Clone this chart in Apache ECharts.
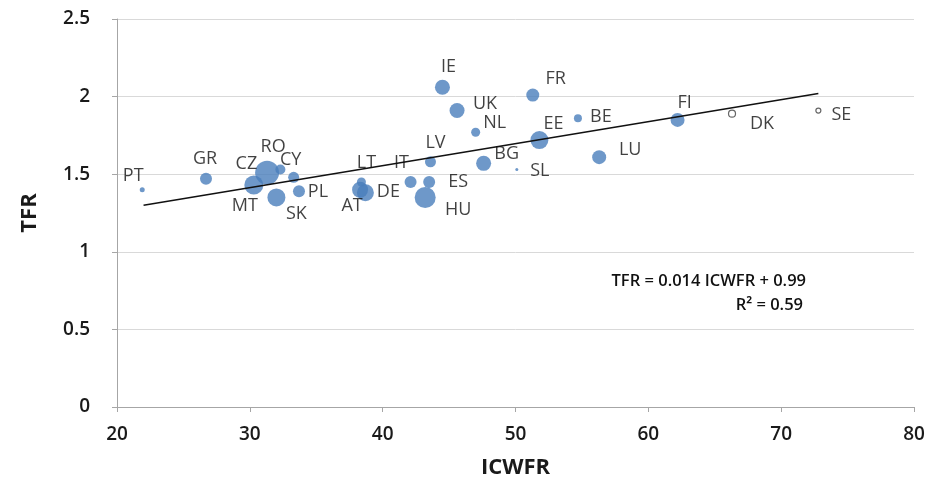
<!DOCTYPE html>
<html>
<head>
<meta charset="utf-8">
<script src="https://cdn.jsdelivr.net/npm/echarts@6/dist/echarts.min.js"></script>
<style>html,body{margin:0;padding:0;background:#fff}#c{width:934px;height:485px}</style>
</head>
<body>
<div id="c"></div>
<script>
const countries = ['PT','GR','RO','CZ','CY','MT','PL','SK','LT','AT','DE','IT','ES','HU','LV','BG','SL','IE','FR','UK','NL','EE','BE','LU','FI','DK','SE'];
const icwfr = [21.9,26.7,31.3,32.3,33.3,30.3,33.7,32.0,38.4,38.3,38.7,42.1,43.5,43.2,43.6,47.6,50.1,44.5,51.3,45.6,47.0,51.8,54.7,56.3,62.2,66.3,72.8];
const tfr = [1.40,1.47,1.51,1.53,1.48,1.43,1.39,1.35,1.45,1.40,1.38,1.45,1.45,1.35,1.58,1.57,1.53,2.06,2.01,1.91,1.77,1.72,1.86,1.61,1.85,1.89,1.91];
const bubble = [5,12,24,10,11,19,12,18,9,16,17,12,12,21,11,15,3,15,13,15,9,18,8,14,14,7,5];
const hollow = ['DK','SE'];
const trendX = [22, 72.8];
const trendY = [1.30, 2.02];
const xTicks = {min: 20, max: 80, interval: 10};
const yTicks = {min: 0, max: 2.5, interval: 0.5};
const equation = 'TFR = 0.014 ICWFR + 0.99';
const rsq = 'R² = 0.59';

// label layout (offsets from bubble centre, px)
const labelOffset = {
  PT:[-9,-14], GR:[-1,-20], RO:[6,-26], CZ:[-34,-6], CY:[-3,-17], MT:[-9,21], PL:[19,1], SK:[20,16],
  LT:[5,-19], AT:[-8,16], DE:[23,-1], IT:[-9,-19], ES:[29,0], HU:[33,12], LV:[5,-19], BG:[23,-9],
  SL:[23,1], IE:[6,-20], FR:[23,-16], UK:[28,-7], NL:[19,-9], EE:[14,-16], BE:[23,-1], LU:[31,-7],
  FI:[7,-17], DK:[30,10], SE:[23,4]
};

const pts = countries.map((c,i) => {
  const o = {name:c, value:[icwfr[i], tfr[i], bubble[i]], label:{offset:labelOffset[c]}};
  if (hollow.includes(c)) o.itemStyle = {color:'#ffffff', borderColor:'#404040', borderWidth:1.2};
  return o;
});

const chart = echarts.init(document.getElementById('c'));
chart.setOption({
  animation:false,
  grid:{left:117, right:20, top:19, bottom:78},
  xAxis:{type:'value', min:xTicks.min, max:xTicks.max, interval:xTicks.interval,
    name:'ICWFR', nameLocation:'middle', nameGap:50,
    nameTextStyle:{fontFamily:'Open Sans', fontWeight:'bold', fontSize:22, color:'#1a1a1a'},
    axisLine:{show:true, lineStyle:{color:'#a6a6a6'}},
    axisTick:{show:true, length:5, lineStyle:{color:'#a6a6a6'}},
    axisLabel:{fontFamily:'Open Sans', fontWeight:600, fontSize:19, color:'#1a1a1a', margin:18},
    splitLine:{show:false}},
  yAxis:{type:'value', min:yTicks.min, max:yTicks.max, interval:yTicks.interval,
    name:'TFR', nameLocation:'middle', nameGap:76, nameRotate:90,
    nameTextStyle:{fontFamily:'Open Sans', fontWeight:'bold', fontSize:22, color:'#1a1a1a'},
    axisLine:{show:true, lineStyle:{color:'#a6a6a6'}},
    axisTick:{show:true, length:5, lineStyle:{color:'#a6a6a6'}},
    axisLabel:{fontFamily:'Open Sans', fontWeight:600, fontSize:19, color:'#1a1a1a', margin:27},
    splitLine:{show:true, lineStyle:{color:'#d9d9d9'}}},
  series:[
    {type:'line', data:trendX.map((x,i)=>[x,trendY[i]]), symbol:'none', silent:true,
     lineStyle:{color:'#111111', width:1.5}, z:3},
    {type:'scatter', data:pts, symbolSize:d=>d[2], z:2,
     itemStyle:{color:'#4a7ebb'},
     label:{show:true, position:'inside', formatter:p=>p.name, fontFamily:'Open Sans',
       fontSize:18, color:'#111111'}}
  ],
  graphic:[
    {type:'text', x:806, y:273, style:{text:equation, fontFamily:'Open Sans', fontWeight:600, fontSize:16.5, fill:'#111111', align:'right'}},
    {type:'text', x:803, y:297, style:{text:rsq, fontFamily:'Open Sans', fontWeight:600, fontSize:16.5, fill:'#111111', align:'right'}}
  ]
});
</script>
</body>
</html>
